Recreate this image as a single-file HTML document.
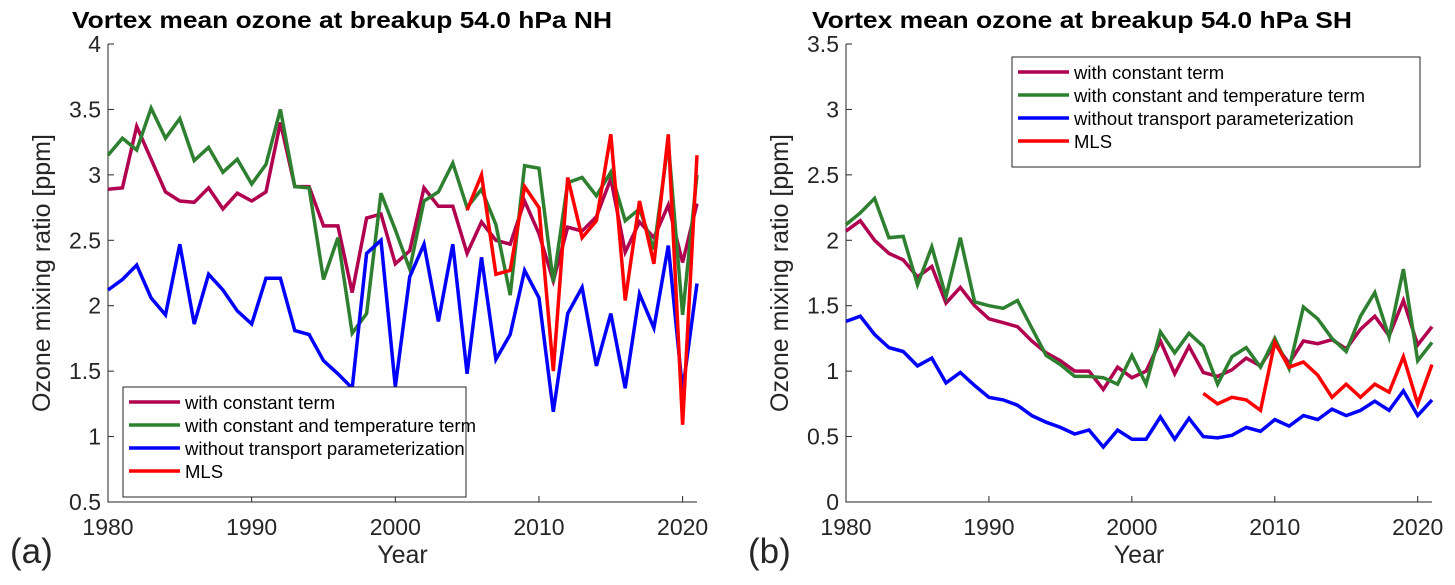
<!DOCTYPE html>
<html><head><meta charset="utf-8"><style>
body{margin:0;background:#fff;}
svg text{font-family:"Liberation Sans",sans-serif;fill:#262626;}
</style></head><body>
<svg id="c" width="1455" height="580" viewBox="0 0 1455 580" xmlns="http://www.w3.org/2000/svg"></svg>
<script>
const years = [];for(let y=1980;y<=2021;y++)years.push(y);
const mlsYears = [];for(let y=2005;y<=2021;y++)mlsYears.push(y);
const nhConst=[2.89,2.90,3.37,3.12,2.87,2.80,2.79,2.90,2.74,2.86,2.80,2.87,3.40,2.91,2.91,2.61,2.61,2.10,2.67,2.70,2.32,2.42,2.90,2.76,2.76,2.40,2.64,2.50,2.47,2.80,2.55,2.19,2.60,2.57,2.68,2.97,2.41,2.64,2.52,2.77,2.33,2.78];
const nhTemp=[3.15,3.28,3.19,3.51,3.28,3.43,3.11,3.21,3.02,3.12,2.93,3.08,3.50,2.91,2.90,2.20,2.52,1.79,1.94,2.86,2.58,2.28,2.80,2.87,3.09,2.75,2.89,2.62,2.08,3.07,3.05,2.18,2.94,2.98,2.84,3.02,2.65,2.74,2.43,3.25,1.93,3.00];
const nhNoTrans=[2.12,2.20,2.31,2.06,1.93,2.47,1.86,2.24,2.12,1.96,1.86,2.21,2.21,1.81,1.78,1.58,1.48,1.37,2.40,2.50,1.38,2.22,2.47,1.88,2.47,1.48,2.37,1.59,1.78,2.27,2.06,1.19,1.94,2.14,1.54,1.94,1.37,2.09,1.83,2.46,1.35,2.17];
const nhMLS=[2.73,3.00,2.24,2.27,2.91,2.75,1.50,2.98,2.52,2.65,3.31,2.04,2.80,2.32,3.31,1.09,3.15];
const shConst=[2.07,2.15,2.00,1.90,1.85,1.72,1.80,1.52,1.64,1.50,1.40,1.37,1.34,1.23,1.14,1.08,1.00,1.00,0.86,1.03,0.95,1.00,1.23,0.98,1.19,0.99,0.96,1.01,1.10,1.04,1.21,1.06,1.23,1.21,1.24,1.17,1.32,1.42,1.27,1.54,1.20,1.34];
const shTemp=[2.12,2.21,2.32,2.02,2.03,1.66,1.95,1.57,2.02,1.53,1.50,1.48,1.54,1.33,1.12,1.05,0.96,0.96,0.95,0.90,1.12,0.90,1.30,1.14,1.29,1.19,0.90,1.11,1.18,1.03,1.25,1.02,1.49,1.40,1.25,1.15,1.42,1.60,1.26,1.78,1.08,1.22];
const shNoTrans=[1.38,1.42,1.28,1.18,1.15,1.04,1.10,0.91,0.99,0.89,0.80,0.78,0.74,0.66,0.61,0.57,0.52,0.55,0.42,0.55,0.48,0.48,0.65,0.48,0.64,0.50,0.49,0.51,0.57,0.54,0.63,0.58,0.66,0.63,0.71,0.66,0.70,0.77,0.70,0.85,0.66,0.78];
const shMLS=[0.83,0.75,0.80,0.78,0.70,1.22,1.03,1.07,0.97,0.80,0.90,0.80,0.90,0.84,1.11,0.75,1.05];
const xTicks=[1980,1990,2000,2010,2020];
const nhYTicks=[0.5,1,1.5,2,2.5,3,3.5,4];
const shYTicks=[0,0.5,1,1.5,2,2.5,3,3.5];
const seriesNames=["with constant term","with constant and temperature term","without transport parameterization","MLS"];
const colors=["#b0004f","#2e8030","#0000ff","#ff0000"];

const svg=document.getElementById('c');
const NS="http://www.w3.org/2000/svg";
function mk(tag,attrs,parent){const e=document.createElementNS(NS,tag);for(const k in attrs)e.setAttribute(k,attrs[k]);(parent||svg).appendChild(e);return e;}

function panel(p){
  const g=mk('g',{});
  
  
  const X=v=>p.x0+(v-1980)*(p.x1-p.x0)/(2021-1980);
  const Y=v=>p.yb+(v-p.ymin)*(p.yt-p.yb)/(p.ymax-p.ymin);
  const ax=mk('path',{d:`M${p.x0},${p.yt}V${p.yb}H${p.x1}`,fill:'none',stroke:'#262626','stroke-width':1},g);
  
  
  xTicks.forEach(t=>{
    mk('line',{x1:X(t),x2:X(t),y1:p.yb,y2:p.yb-6,stroke:'#262626'},g);
    const tx=mk('text',{x:X(t),y:p.yb+33,'text-anchor':'middle','font-size':23},g);
    tx.textContent=t;
    
    
  });
  p.yTicks.forEach(t=>{
    mk('line',{x1:p.x0,x2:p.x0+6,y1:Y(t),y2:Y(t),stroke:'#262626'},g);
    const tx=mk('text',{x:p.x0-7,y:Y(t)+8,'text-anchor':'end','font-size':23},g);
    tx.textContent=t;
    
    
  });
  p.series.forEach((s,i)=>{
    const yrs=i===3?mlsYears:years;
    const d=s.map((v,j)=>(j?'L':'M')+X(yrs[j]).toFixed(1)+','+Y(v).toFixed(1)).join('');
    const pl=mk('path',{d,fill:'none',stroke:colors[i],'stroke-width':3.5,'stroke-linejoin':'miter'},g);
    
    
  });
  const t=mk('text',{x:p.tx,y:28,'font-size':23,'font-weight':'bold',textLength:540,lengthAdjust:'spacingAndGlyphs'},g);
  t.style.fill='#000';
  t.textContent=p.title;
  
  
  const yl=mk('text',{x:0,y:0,'text-anchor':'middle','font-size':25,transform:`translate(${p.x0-58},${(p.yt+p.yb)/2}) rotate(-90)`},g);
  yl.textContent='Ozone mixing ratio [ppm]';
  
  
  const xl=mk('text',{x:(p.x0+p.x1)/2,y:563,'text-anchor':'middle','font-size':25},g);
  xl.textContent='Year';
  
  
  const pa=mk('text',{x:p.lx,y:563,'font-size':35},g);
  pa.textContent=p.label;
  
  
  const lg=mk('g',{},g);
  
  
  mk('rect',{x:p.lgx,y:p.lgy,width:p.lgw,height:110,fill:'#fff',stroke:'#262626','stroke-width':1},lg);
  seriesNames.forEach((n,i)=>{
    const yy=p.lgy+15+i*23;
    mk('line',{x1:p.lgx+6,x2:p.lgx+57,y1:yy,y2:yy,stroke:colors[i],'stroke-width':3.5},lg);
    const lt=mk('text',{x:p.lgx+62,y:yy+7,'font-size':18.5},lg);
    lt.style.fill='#000';
    lt.textContent=n;
    
    
  });
}
panel({name:'nh-panel',x0:108,x1:697,yt:44,yb:502,ymin:0.5,ymax:4,yTicks:nhYTicks,series:[nhConst,nhTemp,nhNoTrans,nhMLS],title:'Vortex mean ozone at breakup  54.0 hPa NH',tx:72,label:'(a)',lx:10,lgx:123,lgy:387,lgw:343});
panel({name:'sh-panel',x0:846,x1:1432,yt:44,yb:502,ymin:0,ymax:3.5,yTicks:shYTicks,series:[shConst,shTemp,shNoTrans,shMLS],title:'Vortex mean ozone at breakup  54.0 hPa SH',tx:812,label:'(b)',lx:748,lgx:1012,lgy:57,lgw:408});
</script>
</body></html>
